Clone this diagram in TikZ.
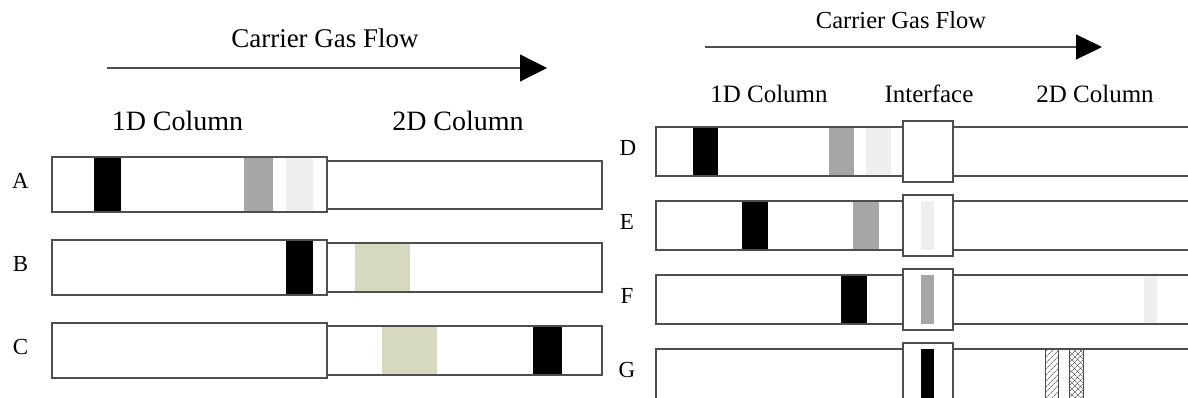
\documentclass[tikz,border=0pt]{standalone}
\usepackage{fontspec}
\setmainfont{Liberation Serif}
\usetikzlibrary{arrows.meta,patterns.meta}
\definecolor{edge}{RGB}{78,78,78}
\definecolor{bandgray}{RGB}{166,166,166}
\definecolor{bandlight}{RGB}{239,239,239}
\definecolor{khaki}{RGB}{214,216,192}
\begin{document}
\begin{tikzpicture}[x=1pt,y=-1pt,
  col/.style={draw=edge, line width=1.1pt},
  bblack/.style={fill=black},
  bgray/.style={fill=bandgray},
  blight/.style={fill=bandlight},
  bkhaki/.style={fill=khaki},
  hatchside/.style={draw=edge, line width=0.7pt},
  rowlbl/.style={font=\fontsize{23}{25}\selectfont, inner sep=0pt},
  headL/.style={font=\fontsize{28}{30}\selectfont, inner sep=0pt, anchor=base},
  headR/.style={font=\fontsize{25}{27}\selectfont, inner sep=0pt, anchor=base},
  flow/.style={draw=edge, line width=1.2pt},
]
\useasboundingbox (0,0) rectangle (1188,398);
\clip (0,0) rectangle (1188,398);

% ---------------- Left panel ----------------
\node[headL, font=\fontsize{27}{29}\selectfont] (cgfL) at (325,48) {Carrier Gas Flow};
\coordinate (aLs) at (107,68);
\coordinate (aLe) at (547,68);
\draw[flow, -{Triangle[length=27pt,width=27pt,color=black]}] (aLs) -- (aLe);
\node[headL] (oneDL) at (177.5,131) {1D Column};
\node[headL] (twoDL) at (458,131) {2D Column};

% Row A
\node[rowlbl] (lA) at (20.5,181) {A};
\fill[bblack] (94,157) rectangle (121,212);
\fill[bgray] (244,157) rectangle (273,212);
\fill[blight] (286,157) rectangle (313,212);
\draw[col] (52,157) rectangle (327,212);
\draw[col] (327,161) rectangle (602,209);

% Row B
\node[rowlbl] (lB) at (20.5,264) {B};
\fill[bblack] (286,240) rectangle (313,295);
\fill[bkhaki] (355,243) rectangle (410,292);
\draw[col] (52,240) rectangle (327,295);
\draw[col] (327,243) rectangle (602,292);

% Row C
\node[rowlbl] (lC) at (20.5,347) {C};
\fill[bkhaki] (382,326) rectangle (437,375);
\fill[bblack] (533,326) rectangle (562,375);
\draw[col] (52,323) rectangle (327,378);
\draw[col] (327,326) rectangle (602,375);

% ---------------- Right panel ----------------
\node[headR, font=\fontsize{24.5}{26}\selectfont] (cgfR) at (901,29) {Carrier Gas Flow};
\coordinate (aRs) at (705,47);
\coordinate (aRe) at (1102,47);
\draw[flow, -{Triangle[length=26pt,width=25pt,color=black]}] (aRs) -- (aRe);
\node[headR] (oneDR) at (769,102.7) {1D Column};
\node[headR] (ifR) at (929,102.7) {Interface};
\node[headR] (twoDR) at (1095,102.7) {2D Column};

% Row D
\node[rowlbl] (lD) at (628,148) {D};
\fill[bblack] (693,127) rectangle (718,176);
\fill[bgray] (829,127) rectangle (854,176);
\fill[blight] (866,127) rectangle (891,176);
\draw[col] (656,127) rectangle (903,176);
\draw[col] (953,127) rectangle (1200,176);
\draw[col] (903,121) rectangle (953,182);

% Row E
\node[rowlbl] (lE) at (627,222) {E};
\fill[bblack] (742,201) rectangle (768,250);
\fill[bgray] (853,201) rectangle (879,250);
\fill[blight] (921,201) rectangle (934,250);
\draw[col] (656,201) rectangle (903,250);
\draw[col] (953,201) rectangle (1200,250);
\draw[col] (903,195) rectangle (953,256);

% Row F
\node[rowlbl] (lF) at (627,296) {F};
\fill[bblack] (841,275) rectangle (867,324);
\fill[bgray] (921,275) rectangle (934,324);
\fill[blight] (1144,275) rectangle (1157,323);
\draw[col] (656,275) rectangle (903,324);
\draw[col] (953,275) rectangle (1200,324);
\draw[col] (903,269) rectangle (953,330);

% Row G
\node[rowlbl] (lG) at (627,370) {G};
\fill[bblack] (921,349) rectangle (934,410);
\fill[pattern={Lines[angle=45,distance=4pt,line width=0.5pt]}, pattern color=black!80]
  (1045,349) rectangle (1058,410);
\draw[hatchside] (1045,349) -- (1045,410) (1058,349) -- (1058,410);
\fill[pattern={Lines[angle=45,distance=4pt,line width=0.5pt]}, pattern color=black!80]
  (1069,349) rectangle (1083,410);
\fill[pattern={Lines[angle=-45,distance=4pt,line width=0.5pt]}, pattern color=black!80]
  (1069,349) rectangle (1083,410);
\draw[hatchside] (1069,349) -- (1069,410) (1083,349) -- (1083,410);
\draw[col] (656,349) rectangle (903,423);
\draw[col] (953,349) rectangle (1200,423);
\draw[col] (903,343) rectangle (953,429);
\end{tikzpicture}
\end{document}
